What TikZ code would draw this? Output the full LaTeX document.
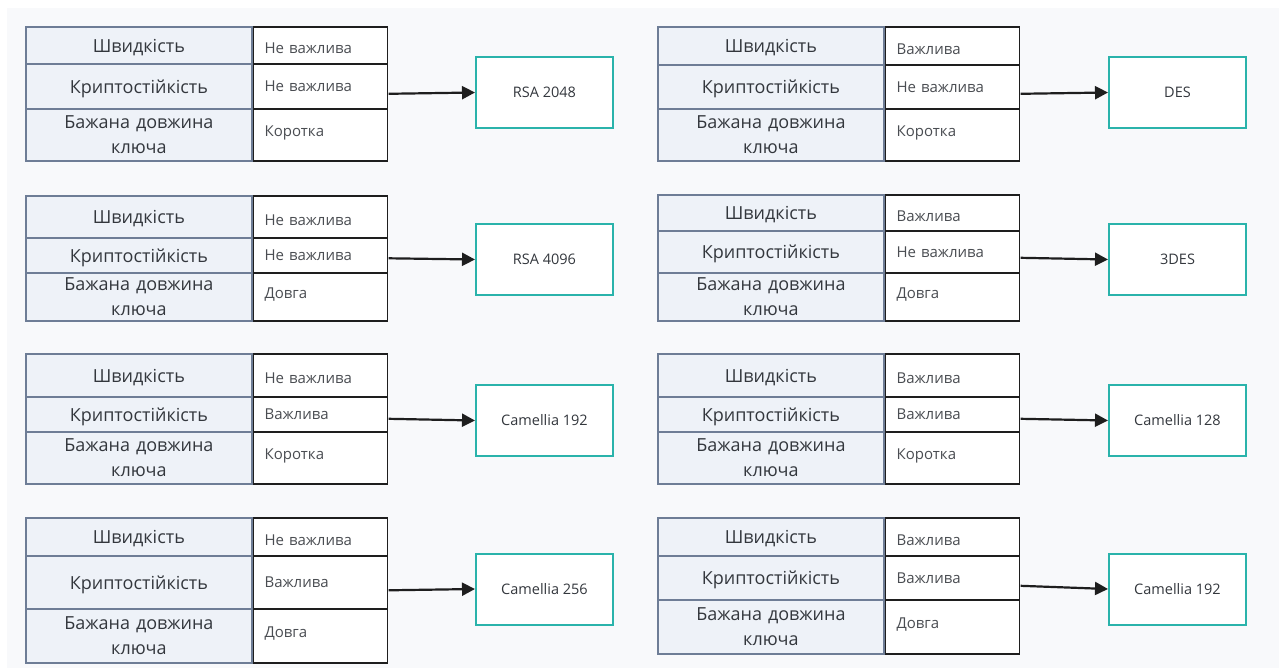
\documentclass[tikz,border=0pt]{standalone}
\usepackage{fontspec}
\setmainfont{Open Sans}
\usetikzlibrary{arrows.meta,fit}
\definecolor{bgc}{HTML}{F8F9FB}
\definecolor{labfill}{HTML}{EEF2F8}
\definecolor{labdraw}{HTML}{6E7D96}
\definecolor{valdraw}{HTML}{1E1E1E}
\definecolor{txt}{HTML}{33373D}
\definecolor{vtxt}{HTML}{4A4D52}
\definecolor{boxdraw}{HTML}{2AB3AB}
\tikzset{
  lab/.style={draw=labdraw, fill=labfill, line width=1.8pt, text=txt,
    minimum width=226pt, text width=220pt, align=center, inner xsep=3pt, inner ysep=0pt,
    font=\fontsize{18}{25}\selectfont},
  val/.style={draw=valdraw, fill=white, line width=1.6pt, text=vtxt,
    text width=112pt, align=left, inner xsep=11pt, inner ysep=0pt,
    font=\fontsize{15}{18}\selectfont},
  algbox/.style={draw=boxdraw, fill=white, line width=2pt, text=txt,
    minimum width=137pt, minimum height=71pt, inner sep=0pt,
    font=\fontsize{14.5}{18}\selectfont},
  conn/.style={line width=2.2pt, draw=valdraw, -{Triangle[length=13pt,width=13pt]}},
  grp/.style={inner sep=0pt}
}
\newcommand\sh[2]{\raisebox{#1}[\height][\depth]{#2}}
\newcommand\tbl[9]{%
  \pgfmathsetlengthmacro\hA{(#4)-(#3)}%
  \pgfmathsetlengthmacro\hB{(#5)-(#4)}%
  \pgfmathsetlengthmacro\hC{(#6)-(#5)}%
  \node[lab, minimum height=\hA, anchor=north west] (#1la) at (#2,#3) {\sh{-2pt}{Швидкість}};
  \node[lab, minimum height=\hB, anchor=north west] (#1lb) at (#2,#4) {\sh{-2pt}{Криптостійкість}};
  \node[lab, minimum height=\hC, anchor=north west] (#1lc) at (#2,#5) {Бажана довжина\\ключа};
  \node[val, minimum height=\hA, anchor=north west] (#1va) at (#1la.north east) {\sh{-3pt}{#7}};
  \node[val, minimum height=\hB, anchor=north west] (#1vb) at (#1lb.north east) {#8};
  \node[val, minimum height=\hC, anchor=north west] (#1vc) at (#1lc.north east) {\sh{2pt}{#9}};
  \node[grp, fit=(#1la)(#1vc)] (#1) {};
}
\begin{document}
\begin{tikzpicture}[x=1pt,y=-1pt]
\useasboundingbox (0,0) rectangle (1279,668);
\fill[white] (0,0) rectangle (1279,668);
\fill[bgc] (7,8) rectangle (1279,668);

\tbl{t1}{25}{26}{63}{108}{160}{Не важлива}{Не важлива}{Коротка}
\tbl{t2}{25}{195}{237}{272}{320}{Не важлива}{Не важлива}{Довга}
\tbl{t3}{25}{353}{396}{431}{483}{Не важлива}{Важлива}{Коротка}
\tbl{t4}{25}{517}{555}{608}{662}{Не важлива}{Важлива}{Довга}
\tbl{t5}{657}{26}{64}{108}{160}{Важлива}{Не важлива}{Коротка}
\tbl{t6}{657}{194}{230}{272}{320}{Важлива}{Не важлива}{Довга}
\tbl{t7}{657}{353}{396}{431}{483}{Важлива}{Важлива}{Коротка}
\tbl{t8}{657}{517}{555}{599}{653}{Важлива}{Важлива}{Довга}

\node[algbox] (b1) at (544.5,92.5) {RSA 2048};
\node[algbox] (b2) at (544.5,259.5) {RSA 4096};
\node[algbox] (b3) at (544.5,420.5) {Camellia 192};
\node[algbox] (b4) at (544.5,589) {Camellia 256};
\node[algbox] (b5) at (1177.5,92.5) {DES};
\node[algbox] (b6) at (1177.5,259.5) {3DES};
\node[algbox] (b7) at (1177.5,420.5) {Camellia 128};
\node[algbox] (b8) at (1177.5,589) {Camellia 192};

\foreach \i in {1,...,8}{\draw[conn] (t\i.east) -- (b\i.west);}
\end{tikzpicture}
\end{document}
